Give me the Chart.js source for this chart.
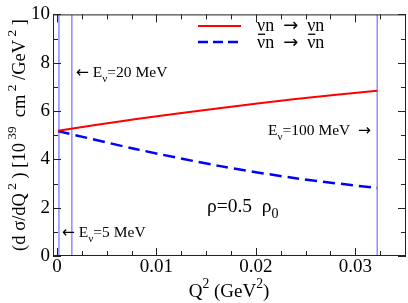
<!DOCTYPE html>
<html>
<head>
<meta charset="utf-8">
<script src="https://cdn.jsdelivr.net/npm/chart.js@4.4.1/dist/chart.umd.min.js"></script>
<style>
  html, body { margin: 0; padding: 0; background: #fff; }
  #wrap { width: 408px; height: 303px; }
</style>
</head>
<body>
<div id="wrap"><canvas id="chart"></canvas></div>
<script>
// values
var q2Nu = [0.0001, 0.008, 0.0163, 0.024, 0.0322];
var sigmaNu = [5.18, 5.67, 6.12, 6.50, 6.84];
var q2NuBar = [0.0001, 0.008, 0.0163, 0.024, 0.0322];
var sigmaNuBar = [5.17, 4.42, 3.73, 3.22, 2.81];
// Q2 max lines for E = 5, 20, 100 MeV
var energyLineX = [0.0002, 0.0015, 0.0322];
var xTicks = [0, 0.01, 0.02, 0.03];
var yTicks = [0, 2, 4, 6, 8, 10];

var SERIF = '"Liberation Serif", "Times New Roman", "DejaVu Serif", serif';
var ARROW = '"DejaVu Sans", sans-serif';
Chart.defaults.font.family = SERIF;

function pts(xs, ys) {
    return xs.map(function (x, i) { return { x: x, y: ys[i] }; });
}

// draw text made of pieces with sup/sub, returns width
function richText(ctx, parts, x, y, size, draw) {
    var w = 0;
    parts.forEach(function (p) {
        var s = p.sup || p.sub ? size * 0.72 : size * (p.scale || 1);
        ctx.font = s + 'px ' + (p.fam || SERIF);
        var dy = p.sup ? -size * 0.48 : (p.sub ? size * 0.3 : 0);
        if (draw) ctx.fillText(p.t, x + w, y + dy);
        var pw = ctx.measureText(p.t).width;
        if (draw && p.bar) {
            ctx.fillRect(x + w + 1, y - size * 0.8, pw - 1, 1.3);
        }
        w += pw;
    });
    return w;
}

var decorPlugin = {
    id: 'decor',
    afterDraw: function (chart) {
        var ctx = chart.ctx;
        var a = chart.chartArea;
        var xs = chart.scales.x, ys = chart.scales.y;
        ctx.save();
        // frame
        ctx.strokeStyle = '#222';
        ctx.lineWidth = 1;
        ctx.strokeRect(a.left + 0.5, a.top + 0.5, a.right - a.left - 1, a.bottom - a.top - 1);
        // inward ticks on all sides
        ctx.beginPath();
        for (var v = 0; v <= 0.035 + 1e-9; v += 0.0025) {
            var px = Math.round(xs.getPixelForValue(v)) + 0.5;
            var major = Math.abs(v / 0.01 - Math.round(v / 0.01)) < 1e-6;
            var len = major ? 8 : 5;
            ctx.moveTo(px, a.bottom); ctx.lineTo(px, a.bottom - len);
            ctx.moveTo(px, a.top); ctx.lineTo(px, a.top + len);
        }
        for (var u = 0; u <= 10; u += 1) {
            var py = Math.round(ys.getPixelForValue(u)) + 0.5;
            var lenY = u % 2 === 0 ? 8 : 5;
            ctx.moveTo(a.left, py); ctx.lineTo(a.left + lenY, py);
            ctx.moveTo(a.right, py); ctx.lineTo(a.right - lenY, py);
        }
        ctx.stroke();

        ctx.fillStyle = '#000';
        ctx.textBaseline = 'alphabetic';
        // legend
        var lx0 = 198, lx1 = 241;
        ctx.lineWidth = 2;
        ctx.strokeStyle = '#ff0000';
        ctx.beginPath(); ctx.moveTo(lx0, 26); ctx.lineTo(lx1, 26); ctx.stroke();
        ctx.lineWidth = 2.5;
        ctx.strokeStyle = '#0000ff';
        ctx.setLineDash([10, 5]);
        ctx.beginPath(); ctx.moveTo(lx0, 42); ctx.lineTo(lx1, 42); ctx.stroke();
        ctx.setLineDash([]);
        richText(ctx, [{ t: 'ν' }, { t: 'n  ' }, { t: '\u2192', fam: ARROW }, { t: '  ' }, { t: 'ν' }, { t: 'n' }], 257, 31, 18, true);
        richText(ctx, [{ t: 'ν', bar: true }, { t: 'n  ' }, { t: '\u2192', fam: ARROW }, { t: '  ' }, { t: 'ν', bar: true }, { t: 'n' }], 257, 48, 18, true);

        // energy labels
        richText(ctx, [{ t: '\u2190', fam: ARROW }, { t: ' E' }, { t: 'ν', sub: true }, { t: '=20 MeV' }], 76, 77, 15.5, true);
        richText(ctx, [{ t: '\u2190', fam: ARROW }, { t: ' E' }, { t: 'ν', sub: true }, { t: '=5 MeV' }], 62, 237, 15.5, true);
        richText(ctx, [{ t: 'E' }, { t: 'ν', sub: true }, { t: '=100 MeV  ' }, { t: '\u2192', fam: ARROW }], 268, 135, 15.5, true);
        richText(ctx, [{ t: 'ρ=0.5  ρ' }, { t: '0', sub: true }], 207, 212, 19.5, true);

        // x title
        var xt = [{ t: 'Q' }, { t: '2', sup: true }, { t: ' (GeV' }, { t: '2', sup: true }, { t: ')' }];
        var xw = richText(ctx, xt, 0, 0, 19, false);
        richText(ctx, xt, 229 - xw / 2, 297, 19, true);

        // y title
        var yt = [{ t: '(d σ/dQ' }, { t: ' 2', sup: true }, { t: ' ) [10' }, { t: ' 39', sup: true },
                  { t: '  cm' }, { t: ' 2', sup: true }, { t: ' /GeV' }, { t: ' 2', sup: true }, { t: ' ]' }];
        var yw = richText(ctx, yt, 0, 0, 18.5, false);
        ctx.translate(25, 135);
        ctx.rotate(-Math.PI / 2);
        richText(ctx, yt, -yw / 2, 0, 18.5, true);
        ctx.restore();
    }
};

var datasets = [
    {
        data: pts(q2Nu, sigmaNu),
        borderColor: '#ff0000', borderWidth: 2, pointRadius: 0, tension: 0.3
    },
    {
        data: pts(q2NuBar, sigmaNuBar),
        borderColor: '#0000ff', borderWidth: 2.5, borderDash: [12, 6], pointRadius: 0, tension: 0.3
    }
];
energyLineX.forEach(function (x) {
    datasets.push({
        data: [{ x: x, y: 0 }, { x: x, y: 10 }],
        borderColor: '#5555ff', borderWidth: 1, pointRadius: 0
    });
});

new Chart(document.getElementById('chart'), {
    type: 'line',
    data: { datasets: datasets },
    options: {
        responsive: true,
        maintainAspectRatio: false,
        animation: false,
        events: [],
        layout: { padding: { top: 7, right: 2, left: 0, bottom: 0 } },
        plugins: { legend: { display: false }, tooltip: { enabled: false } },
        scales: {
            x: {
                type: 'linear',
                min: -0.0004, max: 0.0351,
                afterBuildTicks: function (s) { s.ticks = xTicks.map(function (v) { return { value: v }; }); },
                afterFit: function (s) { s.height = 47; },
                grid: { display: false, drawTicks: false },
                border: { display: false },
                ticks: {
                    color: '#000', padding: 2,
                    font: { family: SERIF, size: 19, lineHeight: 1 },
                    maxRotation: 0,
                    callback: function (v) { return v === 0 ? '0' : String(+v.toFixed(2)); }
                }
            },
            y: {
                min: 0, max: 10,
                afterBuildTicks: function (s) { s.ticks = yTicks.map(function (v) { return { value: v }; }); },
                afterFit: function (s) { s.width = 53; },
                grid: { display: false, drawTicks: false },
                border: { display: false },
                ticks: {
                    color: '#000', padding: 3,
                    font: { family: SERIF, size: 19 }
                }
            }
        }
    },
    plugins: [decorPlugin]
});
</script>
</body>
</html>
